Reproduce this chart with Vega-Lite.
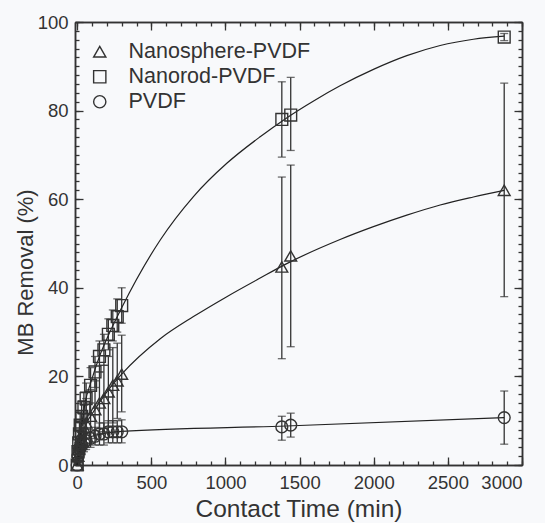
{
  "$schema": "https://vega.github.io/schema/vega-lite/v6.json",
  "width": 447,
  "height": 443,
  "autosize": "none",
  "padding": {"left": 75, "top": 22, "right": 23, "bottom": 58},
  "background": "#f8f9fb",
  "config": {
    "view": {"stroke": null},
    "axis": {
      "grid": false,
      "domainColor": "#333",
      "domainWidth": 1.5,
      "tickColor": "#333",
      "tickWidth": 1.3,
      "labelColor": "#333",
      "labelFont": "Liberation Sans",
      "labelFontSize": 18.5,
      "titleFont": "Liberation Sans",
      "titleFontSize": 22,
      "titleFontWeight": "normal",
      "titleColor": "#333"
    },
    "legend": {
      "labelFont": "Liberation Sans"
    }
  },
  "datasets": {
    "pts": [
      {"series": "Nanorod-PVDF", "t": 0, "y": 0, "lo": 0, "hi": 0.5},
      {"series": "Nanorod-PVDF", "t": 5, "y": 3, "lo": 1, "hi": 5},
      {"series": "Nanorod-PVDF", "t": 10, "y": 5, "lo": 2.5, "hi": 7.5},
      {"series": "Nanorod-PVDF", "t": 15, "y": 7, "lo": 4, "hi": 10},
      {"series": "Nanorod-PVDF", "t": 20, "y": 9, "lo": 6, "hi": 12},
      {"series": "Nanorod-PVDF", "t": 30, "y": 11, "lo": 7.5, "hi": 14.5},
      {"series": "Nanorod-PVDF", "t": 45, "y": 13, "lo": 9.5, "hi": 16.5},
      {"series": "Nanorod-PVDF", "t": 60, "y": 15, "lo": 11.5, "hi": 18.5},
      {"series": "Nanorod-PVDF", "t": 90, "y": 18, "lo": 14, "hi": 22},
      {"series": "Nanorod-PVDF", "t": 120, "y": 21, "lo": 17.5, "hi": 24.5},
      {"series": "Nanorod-PVDF", "t": 150, "y": 24.5, "lo": 21, "hi": 28},
      {"series": "Nanorod-PVDF", "t": 180, "y": 26, "lo": 22.5, "hi": 29.5},
      {"series": "Nanorod-PVDF", "t": 210, "y": 29.5, "lo": 26, "hi": 33},
      {"series": "Nanorod-PVDF", "t": 240, "y": 31.5, "lo": 28, "hi": 35},
      {"series": "Nanorod-PVDF", "t": 270, "y": 33.5, "lo": 30, "hi": 37.5},
      {"series": "Nanorod-PVDF", "t": 300, "y": 36, "lo": 32, "hi": 40},
      {"series": "Nanorod-PVDF", "t": 1380, "y": 78, "lo": 69.5, "hi": 86.5},
      {"series": "Nanorod-PVDF", "t": 1440, "y": 79, "lo": 71, "hi": 87.5},
      {"series": "Nanorod-PVDF", "t": 2880, "y": 96.6, "lo": 95.8, "hi": 97.4},
      {"series": "Nanosphere-PVDF", "t": 0, "y": 0, "lo": 0, "hi": 0.5},
      {"series": "Nanosphere-PVDF", "t": 5, "y": 2, "lo": 0, "hi": 4.5},
      {"series": "Nanosphere-PVDF", "t": 10, "y": 3.5, "lo": 0.5, "hi": 6.5},
      {"series": "Nanosphere-PVDF", "t": 15, "y": 4.5, "lo": 1, "hi": 8},
      {"series": "Nanosphere-PVDF", "t": 20, "y": 5.5, "lo": 1.5, "hi": 9.5},
      {"series": "Nanosphere-PVDF", "t": 30, "y": 7, "lo": 2.5, "hi": 11.5},
      {"series": "Nanosphere-PVDF", "t": 45, "y": 8.5, "lo": 3.5, "hi": 13.5},
      {"series": "Nanosphere-PVDF", "t": 60, "y": 9.5, "lo": 4, "hi": 15},
      {"series": "Nanosphere-PVDF", "t": 90, "y": 11, "lo": 5, "hi": 17},
      {"series": "Nanosphere-PVDF", "t": 120, "y": 12.5, "lo": 6, "hi": 19},
      {"series": "Nanosphere-PVDF", "t": 150, "y": 14, "lo": 7, "hi": 21},
      {"series": "Nanosphere-PVDF", "t": 180, "y": 15, "lo": 7.5, "hi": 22.5},
      {"series": "Nanosphere-PVDF", "t": 210, "y": 16.5, "lo": 8.5, "hi": 24.5},
      {"series": "Nanosphere-PVDF", "t": 240, "y": 18, "lo": 9.5, "hi": 26.5},
      {"series": "Nanosphere-PVDF", "t": 270, "y": 19, "lo": 10.5, "hi": 27.5},
      {"series": "Nanosphere-PVDF", "t": 300, "y": 20.5, "lo": 12, "hi": 29.3},
      {"series": "Nanosphere-PVDF", "t": 1380, "y": 44.7, "lo": 24, "hi": 65},
      {"series": "Nanosphere-PVDF", "t": 1440, "y": 47.2, "lo": 26.7, "hi": 67.7},
      {"series": "Nanosphere-PVDF", "t": 2880, "y": 62, "lo": 38, "hi": 86.2},
      {"series": "PVDF", "t": 0, "y": 0, "lo": 0, "hi": 0.5},
      {"series": "PVDF", "t": 5, "y": 2, "lo": 0.5, "hi": 3.5},
      {"series": "PVDF", "t": 10, "y": 3, "lo": 1, "hi": 5},
      {"series": "PVDF", "t": 15, "y": 3.5, "lo": 1.5, "hi": 5.5},
      {"series": "PVDF", "t": 20, "y": 4, "lo": 2, "hi": 6},
      {"series": "PVDF", "t": 30, "y": 4.5, "lo": 2.5, "hi": 6.5},
      {"series": "PVDF", "t": 45, "y": 5, "lo": 3, "hi": 7},
      {"series": "PVDF", "t": 60, "y": 5.5, "lo": 3.5, "hi": 7.5},
      {"series": "PVDF", "t": 90, "y": 6, "lo": 4, "hi": 8},
      {"series": "PVDF", "t": 120, "y": 6.5, "lo": 4.5, "hi": 8.5},
      {"series": "PVDF", "t": 150, "y": 7, "lo": 4.5, "hi": 9.5},
      {"series": "PVDF", "t": 180, "y": 7, "lo": 4.5, "hi": 9.5},
      {"series": "PVDF", "t": 210, "y": 7.5, "lo": 5, "hi": 10},
      {"series": "PVDF", "t": 240, "y": 7.5, "lo": 5, "hi": 10},
      {"series": "PVDF", "t": 270, "y": 7.5, "lo": 5, "hi": 10},
      {"series": "PVDF", "t": 300, "y": 7.5, "lo": 5, "hi": 10.2},
      {"series": "PVDF", "t": 1380, "y": 8.6, "lo": 5.6, "hi": 11},
      {"series": "PVDF", "t": 1440, "y": 9, "lo": 6.3, "hi": 11.7},
      {"series": "PVDF", "t": 2880, "y": 10.7, "lo": 4.7, "hi": 16.7}
    ],
    "fit": [
      {"series": "Nanorod-PVDF", "t": 0, "y": 0},
      {"series": "Nanorod-PVDF", "t": 50, "y": 13.5},
      {"series": "Nanorod-PVDF", "t": 100, "y": 19.5},
      {"series": "Nanorod-PVDF", "t": 150, "y": 24.5},
      {"series": "Nanorod-PVDF", "t": 200, "y": 28.5},
      {"series": "Nanorod-PVDF", "t": 300, "y": 35.5},
      {"series": "Nanorod-PVDF", "t": 560, "y": 50.8},
      {"series": "Nanorod-PVDF", "t": 784, "y": 60.6},
      {"series": "Nanorod-PVDF", "t": 1009, "y": 68.1},
      {"series": "Nanorod-PVDF", "t": 1234, "y": 74.1},
      {"series": "Nanorod-PVDF", "t": 1410, "y": 78.3},
      {"series": "Nanorod-PVDF", "t": 1600, "y": 82.3},
      {"series": "Nanorod-PVDF", "t": 1773, "y": 85.6},
      {"series": "Nanorod-PVDF", "t": 1998, "y": 89.3},
      {"series": "Nanorod-PVDF", "t": 2223, "y": 92.4},
      {"series": "Nanorod-PVDF", "t": 2448, "y": 94.7},
      {"series": "Nanorod-PVDF", "t": 2672, "y": 96.1},
      {"series": "Nanorod-PVDF", "t": 2880, "y": 96.8},
      {"series": "Nanosphere-PVDF", "t": 0, "y": 0},
      {"series": "Nanosphere-PVDF", "t": 50, "y": 8.5},
      {"series": "Nanosphere-PVDF", "t": 100, "y": 11.5},
      {"series": "Nanosphere-PVDF", "t": 200, "y": 16.5},
      {"series": "Nanosphere-PVDF", "t": 300, "y": 20.5},
      {"series": "Nanosphere-PVDF", "t": 560, "y": 28.5},
      {"series": "Nanosphere-PVDF", "t": 784, "y": 33.5},
      {"series": "Nanosphere-PVDF", "t": 1009, "y": 38},
      {"series": "Nanosphere-PVDF", "t": 1234, "y": 42.2},
      {"series": "Nanosphere-PVDF", "t": 1410, "y": 45.4},
      {"series": "Nanosphere-PVDF", "t": 1773, "y": 50.9},
      {"series": "Nanosphere-PVDF", "t": 1998, "y": 53.8},
      {"series": "Nanosphere-PVDF", "t": 2223, "y": 56.4},
      {"series": "Nanosphere-PVDF", "t": 2448, "y": 58.7},
      {"series": "Nanosphere-PVDF", "t": 2672, "y": 60.5},
      {"series": "Nanosphere-PVDF", "t": 2880, "y": 62},
      {"series": "PVDF", "t": 0, "y": 0},
      {"series": "PVDF", "t": 30, "y": 4.5},
      {"series": "PVDF", "t": 100, "y": 6.5},
      {"series": "PVDF", "t": 300, "y": 7.6},
      {"series": "PVDF", "t": 1410, "y": 8.8},
      {"series": "PVDF", "t": 2880, "y": 10.7}
    ]
  },
  "layer": [
    {
      "data": {"name": "pts"},
      "mark": {"type": "rule", "color": "#333", "strokeWidth": 1.3},
      "encoding": {
        "x": {"field": "t", "type": "quantitative", "scale": {"domain": [-15, 3000], "nice": false, "zero": false},
          "axis": {"orient": "bottom", "values": [0, 500, 1000, 1500, 2000, 2500, 3000], "format": "d", "tickSize": -8, "labelPadding": 16, "title": "Contact Time (min)", "titleFontSize": 24.5, "titlePadding": 6}},
        "y": {"field": "lo", "type": "quantitative", "scale": {"domain": [0, 100], "nice": false},
          "axis": {"orient": "left", "values": [0, 20, 40, 60, 80, 100], "tickSize": -8, "labelPadding": 15, "title": "MB Removal (%)", "titlePadding": 0, "titleY": 250}},
        "y2": {"field": "hi"}
      }
    },
    {
      "data": {"name": "pts"},
      "mark": {"type": "tick", "orient": "horizontal", "color": "#333", "size": 8, "thickness": 1.3},
      "encoding": {
        "x": {"field": "t", "type": "quantitative", "scale": {"domain": [-15, 3000], "nice": false, "zero": false},
          "axis": {"orient": "bottom", "values": [0,100,200,300,400,500,600,700,800,900,1000,1100,1200,1300,1400,1500,1600,1700,1800,1900,2000,2100,2200,2300,2400,2500,2600,2700,2800,2900,3000], "tickSize": -4, "labels": false, "title": null}},
        "y": {"field": "lo", "type": "quantitative", "scale": {"domain": [0, 100], "nice": false},
          "axis": {"orient": "left", "values": [0,2,4,6,8,10,12,14,16,18,20,22,24,26,28,30,32,34,36,38,40,42,44,46,48,50,52,54,56,58,60,62,64,66,68,70,72,74,76,78,80,82,84,86,88,90,92,94,96,98,100], "tickSize": -4, "labels": false, "title": null}}
      }
    },
    {
      "data": {"name": "pts"},
      "mark": {"type": "tick", "orient": "horizontal", "color": "#333", "size": 8, "thickness": 1.3},
      "encoding": {
        "x": {"field": "t", "type": "quantitative", "scale": {"domain": [-15, 3000], "nice": false, "zero": false},
          "axis": {"orient": "top", "values": [0, 500, 1000, 1500, 2000, 2500, 3000], "tickSize": -8, "labels": false, "title": null}},
        "y": {"field": "hi", "type": "quantitative", "scale": {"domain": [0, 100], "nice": false},
          "axis": {"orient": "right", "values": [0, 20, 40, 60, 80, 100], "tickSize": -8, "labels": false, "title": null}}
      }
    },
    {
      "data": {"name": "fit"},
      "mark": {"type": "line", "color": "#222", "strokeWidth": 1.2, "interpolate": "monotone"},
      "encoding": {
        "x": {"field": "t", "type": "quantitative", "scale": {"domain": [-15, 3000], "nice": false, "zero": false},
          "axis": {"orient": "top", "values": [0,100,200,300,400,500,600,700,800,900,1000,1100,1200,1300,1400,1500,1600,1700,1800,1900,2000,2100,2200,2300,2400,2500,2600,2700,2800,2900,3000], "tickSize": -4, "labels": false, "title": null}},
        "y": {"field": "y", "type": "quantitative", "scale": {"domain": [0, 100], "nice": false},
          "axis": {"orient": "right", "values": [0,2,4,6,8,10,12,14,16,18,20,22,24,26,28,30,32,34,36,38,40,42,44,46,48,50,52,54,56,58,60,62,64,66,68,70,72,74,76,78,80,82,84,86,88,90,92,94,96,98,100], "tickSize": -4, "labels": false, "title": null}},
        "detail": {"field": "series", "type": "nominal"}
      }
    },
    {
      "data": {"name": "pts"},
      "mark": {"type": "point", "filled": false, "stroke": "#333", "strokeWidth": 1.4, "size": 140, "opacity": 1},
      "encoding": {
        "x": {"field": "t", "type": "quantitative", "scale": {"domain": [-15, 3000], "nice": false, "zero": false}, "axis": null},
        "y": {"field": "y", "type": "quantitative", "scale": {"domain": [0, 100], "nice": false}, "axis": null},
        "shape": {"field": "series", "type": "nominal",
          "scale": {"domain": ["Nanosphere-PVDF", "Nanorod-PVDF", "PVDF"], "range": ["triangle-up", "square", "circle"]},
          "legend": {"orient": "none", "legendX": 14, "legendY": 19, "title": null, "labelFontSize": 21.5, "labelLimit": 400, "labelColor": "#333", "symbolSize": 150, "symbolStrokeWidth": 1.4, "symbolStrokeColor": "#333", "symbolFillColor": "transparent", "labelOffset": 18, "rowPadding": 2}}
      }
    }
  ],
  "resolve": {"axis": {"x": "independent", "y": "independent"}}
}
